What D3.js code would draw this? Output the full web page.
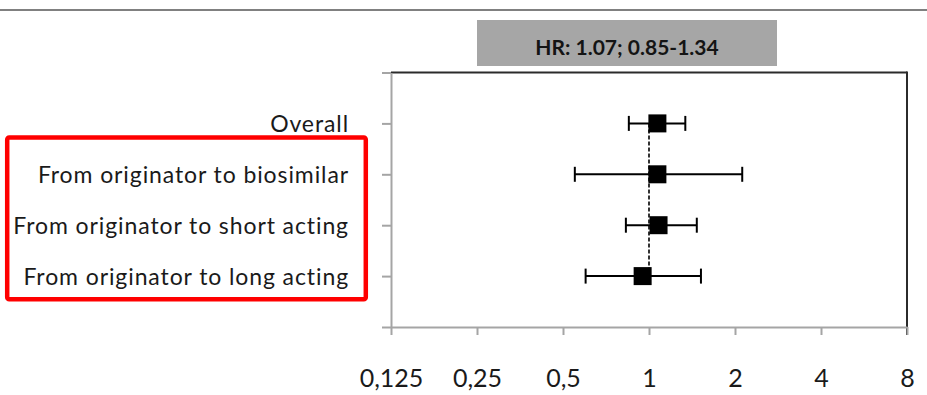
<!DOCTYPE html>
<html>
<head>
<meta charset="utf-8">
<script src="https://cdn.jsdelivr.net/npm/d3@7"></script>
<style>
  html, body { margin: 0; padding: 0; background: #fff; }
  svg { display: block; }
</style>
</head>
<body>
<svg id="chart" width="927" height="395"></svg>
<script>
// ---- data ----
const categories = [
  "Overall",
  "From originator to biosimilar",
  "From originator to short acting",
  "From originator to long acting"
];
const hrValues = [1.07, 1.07, 1.08, 0.95];
const ciLower  = [0.85, 0.55, 0.83, 0.60];
const ciUpper  = [1.34, 2.12, 1.47, 1.52];
const xTickValues = [0.125, 0.25, 0.5, 1, 2, 4, 8];
const xTickLabels = ["0,125", "0,25", "0,5", "1", "2", "4", "8"];
const headerText = "HR: 1.07; 0.85-1.34";
const referenceValue = 1;

// ---- layout ----
const svg = d3.select("#chart");
const W = 927, H = 395;
const plot = { left: 391, right: 907, top: 72.5, bottom: 327 };
const FONT = "Lato, 'Open Sans', sans-serif";

const x = d3.scaleLog().base(2).domain([0.125, 8]).range([plot.left, plot.right]);
const y = d3.scaleLinear().domain([0, 5]).range([plot.bottom, plot.top]);
const rowValue = i => categories.length - i; // Overall at top

// top grey rule
svg.append("line")
  .attr("x1", 0).attr("x2", W).attr("y1", 10).attr("y2", 10)
  .attr("stroke", "#808080").attr("stroke-width", 2);

// header box
const hb = { x: 477, y: 20, w: 300, h: 46 };
svg.append("rect")
  .attr("x", hb.x).attr("y", hb.y).attr("width", hb.w).attr("height", hb.h)
  .attr("fill", "#a6a6a6");
svg.append("text")
  .attr("x", hb.x + hb.w / 2).attr("y", 55)
  .attr("text-anchor", "middle")
  .attr("font-family", FONT).attr("font-weight", "bold").attr("font-size", 21)
  .attr("fill", "#141414")
  .text(headerText);

// top & right border of plot
svg.append("line")
  .attr("x1", plot.left).attr("x2", plot.right).attr("y1", plot.top).attr("y2", plot.top)
  .attr("stroke", "#2b2b2b").attr("stroke-width", 2);
svg.append("line")
  .attr("x1", plot.right).attr("x2", plot.right).attr("y1", plot.top - 1).attr("y2", plot.bottom + 8)
  .attr("stroke", "#2b2b2b").attr("stroke-width", 2);

// y axis
const yAxis = d3.axisLeft(y)
  .tickValues(d3.range(0, 6))
  .tickSize(9).tickSizeOuter(0)
  .tickPadding(33)
  .tickFormat(d => (d >= 1 && d <= categories.length) ? categories[categories.length - d] : "");
const gy = svg.append("g").attr("transform", `translate(${plot.left},0)`).call(yAxis);
gy.select(".domain").attr("stroke", "#a5a5a5").attr("stroke-width", 2);
gy.selectAll(".tick line").attr("stroke", "#a5a5a5").attr("stroke-width", 2);
gy.selectAll(".tick text")
  .attr("font-family", FONT).attr("font-size", 23).attr("fill", "#1a1a1a")
  .attr("letter-spacing", 0.9)
  .attr("dy", "0").attr("y", 8.5);

// x axis
const xAxis = d3.axisBottom(x)
  .tickValues(xTickValues)
  .tickSize(8).tickSizeOuter(0)
  .tickFormat((d, i) => xTickLabels[i]);
const gx = svg.append("g").attr("transform", `translate(0,${plot.bottom})`).call(xAxis);
gx.select(".domain").attr("stroke", "#a5a5a5").attr("stroke-width", 2);
gx.selectAll(".tick line").attr("stroke", "#a5a5a5").attr("stroke-width", 2);
gx.selectAll(".tick text")
  .attr("font-family", FONT).attr("font-size", 25).attr("fill", "#1a1a1a")
  .attr("dy", "0").attr("y", 60);

// reference dashed line
svg.append("line")
  .attr("x1", x(referenceValue)).attr("x2", x(referenceValue))
  .attr("y1", y(rowValue(0))).attr("y2", y(rowValue(categories.length - 1)))
  .attr("stroke", "#000").attr("stroke-width", 1.6)
  .attr("stroke-dasharray", "4,2");

// whiskers
const rows = categories.map((c, i) => ({ c, hr: hrValues[i], lo: ciLower[i], hi: ciUpper[i], v: rowValue(i) }));
const g = svg.append("g");
g.selectAll("line.ci").data(rows).join("line").attr("class", "ci")
  .attr("x1", d => x(d.lo)).attr("x2", d => x(d.hi))
  .attr("y1", d => y(d.v)).attr("y2", d => y(d.v))
  .attr("stroke", "#000").attr("stroke-width", 2);
const cap = 7.5;
g.selectAll("line.capL").data(rows).join("line").attr("class", "capL")
  .attr("x1", d => x(d.lo)).attr("x2", d => x(d.lo))
  .attr("y1", d => y(d.v) - cap).attr("y2", d => y(d.v) + cap)
  .attr("stroke", "#000").attr("stroke-width", 2);
g.selectAll("line.capR").data(rows).join("line").attr("class", "capR")
  .attr("x1", d => x(d.hi)).attr("x2", d => x(d.hi))
  .attr("y1", d => y(d.v) - cap).attr("y2", d => y(d.v) + cap)
  .attr("stroke", "#000").attr("stroke-width", 2);
const box = 18;
g.selectAll("rect.pt").data(rows).join("rect").attr("class", "pt")
  .attr("x", d => x(d.hr) - box / 2).attr("y", d => y(d.v) - box / 2)
  .attr("width", box).attr("height", box)
  .attr("fill", "#000");

// red highlight box around subgroup labels
svg.append("rect")
  .attr("x", 7.2).attr("y", 137.5).attr("width", 358.6).attr("height", 161.7)
  .attr("rx", 2)
  .attr("fill", "none").attr("stroke", "#ff0000").attr("stroke-width", 4.5);
</script>
</body>
</html>
